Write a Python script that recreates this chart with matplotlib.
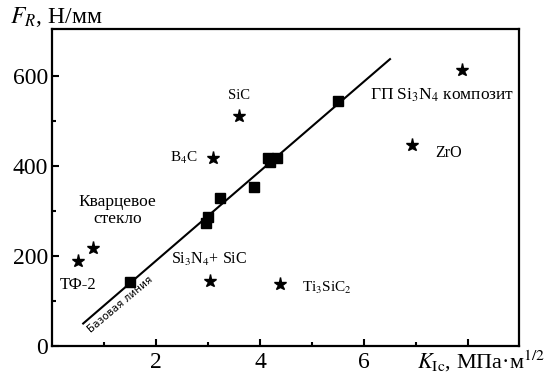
import matplotlib
matplotlib.use("Agg")
import matplotlib.pyplot as plt

plt.rcParams['font.family'] = ['Liberation Serif', 'DejaVu Serif']
plt.rcParams['mathtext.fontset'] = 'stix'

# reference materials on the base line (squares)
base_k = [1.5, 2.96, 3.0, 3.23, 3.88, 4.15, 4.2, 4.33, 5.5]
base_f = [142, 273, 287, 329, 353, 418, 409, 418, 545]
# fitted base line ends
line_k = [0.6, 6.5]
line_f = [50, 638]

# other ceramics (stars)
star_names = ['ТФ-2', 'Кварцевое\nстекло', 'SiC', 'B$_4$C', 'Si$_3$N$_4$+ SiC',
              'Ti$_3$SiC$_2$', 'ГП Si$_3$N$_4$ композит', 'ZrO']
star_k = [0.5, 0.78, 3.6, 3.1, 3.03, 4.39, 7.88, 6.92]
star_f = [189, 218, 511, 418, 144, 138, 613, 447]
# label offsets (points) and font sizes
label_dx = [0, 18, 0, -11, 0, 16, -14, 17]
label_dy = [-17, 27, 15, 0, 16, -3, -18, -6]
label_ha = ['center', 'center', 'center', 'right', 'center', 'left', 'center', 'left']
label_fs = [12, 12.5, 10.5, 11, 11.5, 11, 12.5, 11.5]

fig = plt.figure(figsize=(5.46, 3.8), dpi=100)
ax = fig.add_axes([0.0952, 0.0895, 0.8553, 0.8342])

ax.plot(line_k, line_f, color='black', lw=1.5)
ax.plot(base_k, base_f, 's', color='black', ms=6.5)
ax.plot(star_k, star_f, '*', color='black', ms=9.5)

for name, x, y, dx, dy, ha, fs in zip(star_names, star_k, star_f, label_dx,
                                      label_dy, label_ha, label_fs):
    ax.annotate(name, (x, y), xytext=(dx, dy), textcoords='offset points',
                ha=ha, va='center', fontsize=fs, linespacing=1.1)

ax.text(1.31, 92, 'Базовая линия', rotation=40, rotation_mode='anchor',
        ha='center', va='center', fontsize=7.5,
        family=['Liberation Sans Narrow', 'DejaVu Sans'])

ax.set_xlim(0, 8.98)
ax.set_ylim(0, 705)
ax.set_xticks([2, 4, 6, 8])
ax.set_xticklabels(['2', '4', '6', ''])
ax.set_xticks([1, 3, 5, 7], minor=True)
ax.set_yticks([0, 200, 400, 600])
ax.set_yticks([100, 300, 500], minor=True)
ax.tick_params(which='both', direction='in', width=1.5, labelsize=17)
ax.tick_params(which='major', length=5)
ax.tick_params(which='minor', length=3)
ax.tick_params(axis='x', pad=4)
ax.tick_params(axis='y', pad=3)
for s in ax.spines.values():
    s.set_linewidth(1.6)

fig.text(0.018, 0.955, '$F_R$, Н/мм', fontsize=17, va='center', ha='left')
fig.text(0.999, 0.05, '$K_{\\mathrm{Ic}}$, МПа·м$^{1/2}$', fontsize=16,
         va='center', ha='right')

fig.savefig('out.png', dpi=100)
